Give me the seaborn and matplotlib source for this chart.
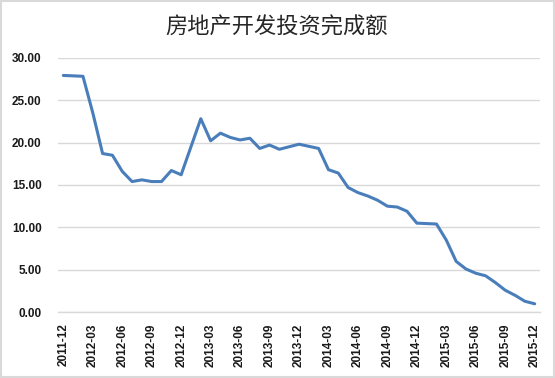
import matplotlib
matplotlib.use("Agg")
import matplotlib.pyplot as plt
import seaborn as sns
import pandas as pd
from matplotlib.patches import Rectangle

# ==============================================================================
# Data: cumulative YoY growth of real-estate development investment (%)
# (January is not published, the line just joins Dec -> Feb)
# ==============================================================================
months = [
    "2011-12",
    "2012-02", "2012-03", "2012-04", "2012-05", "2012-06", "2012-07",
    "2012-08", "2012-09", "2012-10", "2012-11", "2012-12",
    "2013-02", "2013-03", "2013-04", "2013-05", "2013-06", "2013-07",
    "2013-08", "2013-09", "2013-10", "2013-11", "2013-12",
    "2014-02", "2014-03", "2014-04", "2014-05", "2014-06", "2014-07",
    "2014-08", "2014-09", "2014-10", "2014-11", "2014-12",
    "2015-02", "2015-03", "2015-04", "2015-05", "2015-06", "2015-07",
    "2015-08", "2015-09", "2015-10", "2015-11", "2015-12",
]
growth = [
    27.9,
    27.8, 23.5, 18.7, 18.5, 16.6, 15.4,
    15.6, 15.4, 15.4, 16.7, 16.2,
    22.8, 20.2, 21.1, 20.6, 20.3, 20.5,
    19.3, 19.7, 19.2, 19.5, 19.8,
    19.3, 16.8, 16.4, 14.7, 14.1, 13.7,
    13.2, 12.5, 12.4, 11.9, 10.5,
    10.4, 8.5, 6.0, 5.1, 4.6, 4.3,
    3.5, 2.6, 2.0, 1.3, 1.0,
]
tick_labels = [
    "2011-12", "2012-03", "2012-06", "2012-09", "2012-12",
    "2013-03", "2013-06", "2013-09", "2013-12",
    "2014-03", "2014-06", "2014-09", "2014-12",
    "2015-03", "2015-06", "2015-09", "2015-12",
]
y_ticks = [0, 5, 10, 15, 20, 25, 30]

df = pd.DataFrame({"month": months, "growth": growth})
# month index on a date-like axis (0 = 2011-12)
df["pos"] = [(int(m[:4]) - 2011) * 12 + int(m[5:]) - 12 for m in months]
tick_pos = [(int(m[:4]) - 2011) * 12 + int(m[5:]) - 12 for m in tick_labels]

# ==============================================================================
# Plot
# ==============================================================================
sns.set_theme(style="white")
plt.rcParams["font.family"] = ["Liberation Sans", "DejaVu Sans"]

W, H = 555, 378
fig = plt.figure(figsize=(W / 100, H / 100), dpi=100)
ax = fig.add_axes([58.4 / W, 1 - 312.3 / H, (539.6 - 58.4) / W, (312.3 - 57.6) / H])

sns.lineplot(data=df, x="pos", y="growth", ax=ax, color="#4a7ebb", linewidth=2.2)

ax.set_xlim(-0.5, 48.5)
ax.set_ylim(0, 30)
ax.set_xlabel("")
ax.set_ylabel("")

# y axis: gridlines only
ax.set_yticks(y_ticks)
ax.set_yticklabels([f"{v:.2f}" for v in y_ticks], fontsize=8.5, fontweight="bold", color="#1a1a1a")
ax.tick_params(axis="y", length=0, pad=12)
ax.yaxis.grid(True, color="#d9d9d9", linewidth=1)
ax.set_axisbelow(True)

# x axis: labels at category centres, tick marks at boundaries
ax.set_xticks(tick_pos)
ax.set_xticklabels(tick_labels, rotation=90, fontsize=8.5, fontweight="bold", color="#1a1a1a")
ax.tick_params(axis="x", which="major", length=0, pad=8)
ax.set_xticks([p - 0.5 for p in tick_pos], minor=True)
ax.tick_params(axis="x", which="minor", length=4, width=1, color="#d9d9d9", direction="out")

for s in ["left", "top", "right"]:
    ax.spines[s].set_visible(False)
ax.spines["bottom"].set_color("#d9d9d9")
ax.spines["bottom"].set_linewidth(1)

fig.text(276.7 / W, 1 - 26.7 / H, "房地产开发投资完成额", ha="center", va="center",
         fontsize=16, color="#262626", family=["Noto Sans CJK SC", "DejaVu Sans"])

# light frame round the whole chart
fig.patches.append(Rectangle((0.002, 0.003), 0.996, 0.994, transform=fig.transFigure,
                             fill=False, edgecolor="#d9d9d9", linewidth=1.5))

fig.savefig("out.png", dpi=100)
plt.close(fig)
